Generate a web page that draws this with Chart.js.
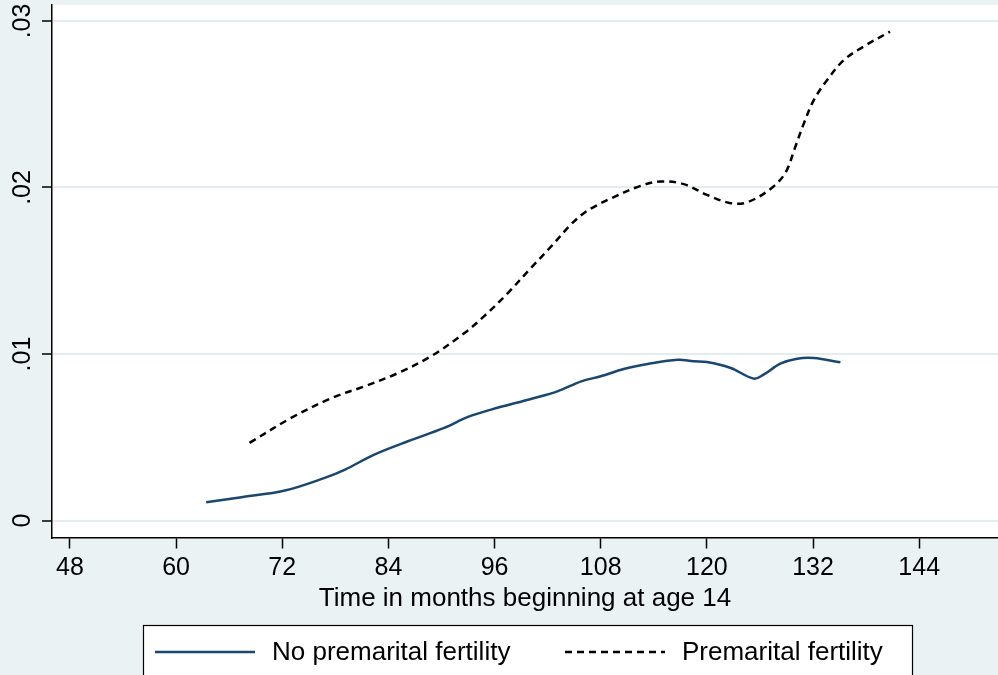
<!DOCTYPE html>
<html>
<head>
<meta charset="utf-8">
<title>Smoothed hazard by premarital fertility</title>
<script src="https://cdn.jsdelivr.net/npm/chart.js@4.4.1/dist/chart.umd.min.js"></script>
<style>
  html, body { margin: 0; padding: 0; background: #eaf2f3; }
  #wrap { width: 998px; height: 675px; position: relative; }
  canvas { display: block; }
</style>
</head>
<body>
<div id="wrap"><canvas id="chart" width="998" height="675"></canvas></div>
<script>
// Smoothed hazard estimates, by months since age 14
const noPremMonths = [63.4, 67.4, 72.3, 76.8, 79.1, 82.4, 86.2, 90.3, 93.0, 95.6, 100.3, 103.1, 105.8, 108.0, 110.6, 113.3, 116.7, 118.5, 120.0, 122.7, 125.3, 126.4, 128.3, 130.2, 132.1, 135.1];
const noPremHazard = [0.00110, 0.00140, 0.00180, 0.00256, 0.00306, 0.00396, 0.00476, 0.00556, 0.00622, 0.00666, 0.00733, 0.00776, 0.00836, 0.00866, 0.00910, 0.00940, 0.00966, 0.00956, 0.00952, 0.00916, 0.00852, 0.00876, 0.00942, 0.00972, 0.00976, 0.00950];

const premMonths = [68.3, 73.0, 77.6, 81.3, 85.1, 88.8, 92.6, 94.8, 97.5, 100.1, 102.4, 104.6, 106.2, 107.4, 108.8, 112.5, 114.8, 117.4, 120.0, 122.7, 124.6, 127.3, 128.9, 129.9, 130.9, 132.1, 133.6, 135.5, 137.7, 140.7];
const premHazard = [0.00466, 0.00616, 0.00736, 0.00806, 0.00886, 0.00986, 0.01126, 0.01226, 0.01366, 0.01516, 0.01646, 0.01776, 0.01850, 0.01888, 0.01926, 0.02010, 0.02036, 0.02020, 0.01956, 0.01906, 0.01912, 0.01996, 0.02090, 0.02230, 0.02376, 0.02526, 0.02646, 0.02766, 0.02846, 0.02936];

const xTickValues = [48, 60, 72, 84, 96, 108, 120, 132, 144];
const yTickValues = [0, 0.01, 0.02, 0.03];
const seriesNames = ['No premarital fertility', 'Premarital fertility'];
const xTitle = 'Time in months beginning at age 14';

const FONT = '"Liberation Sans", Arial, Helvetica, sans-serif';
const BG = '#eaf2f3';

function toPoints(xs, ys) {
  return xs.map((x, i) => ({ x: x, y: ys[i] }));
}

function yLabel(v) {
  if (v === 0) return '0';
  return v.toFixed(2).replace(/^0/, '');
}

// Paints the outer region and the white plot region
const backgroundPlugin = {
  id: 'regions',
  beforeDraw(chart) {
    const { ctx, chartArea: a } = chart;
    ctx.save();
    ctx.fillStyle = BG;
    ctx.fillRect(0, 0, chart.width, chart.height);
    ctx.fillStyle = '#ffffff';
    ctx.fillRect(a.left, a.top, a.right - a.left, a.bottom - a.top);
    ctx.restore();
  }
};

// Boxed legend below the axis title, built from the datasets
const boxedLegendPlugin = {
  id: 'boxedLegend',
  afterDraw(chart) {
    const { ctx } = chart;
    const box = { left: 143, top: 625, right: 912, bottom: 690 };
    const rowY = 652;
    const sampleStarts = [155, 565];
    const sampleLen = 100;
    const textGap = 17;
    ctx.save();
    ctx.fillStyle = '#ffffff';
    ctx.fillRect(box.left, box.top, box.right - box.left, box.bottom - box.top);
    ctx.strokeStyle = '#000000';
    ctx.lineWidth = 1.2;
    ctx.strokeRect(box.left + 0.5, box.top + 0.5, box.right - box.left, box.bottom - box.top);
    chart.data.datasets.forEach((ds, i) => {
      const x0 = sampleStarts[i];
      ctx.beginPath();
      ctx.setLineDash(ds.borderDash || []);
      ctx.strokeStyle = ds.borderColor;
      ctx.lineWidth = ds.borderWidth;
      ctx.moveTo(x0, rowY);
      ctx.lineTo(x0 + sampleLen, rowY);
      ctx.stroke();
      ctx.setLineDash([]);
      ctx.fillStyle = '#000000';
      ctx.font = '26px ' + FONT;
      ctx.textAlign = 'left';
      ctx.textBaseline = 'middle';
      ctx.fillText(ds.label, x0 + sampleLen + textGap, rowY + 1);
    });
    ctx.restore();
  }
};

new Chart(document.getElementById('chart'), {
  type: 'line',
  data: {
    datasets: [
      {
        label: seriesNames[0],
        data: toPoints(noPremMonths, noPremHazard),
        borderColor: '#1a476f',
        borderWidth: 2.5,
        pointRadius: 0,
        tension: 0.35,
        fill: false
      },
      {
        label: seriesNames[1],
        data: toPoints(premMonths, premHazard),
        borderColor: '#000000',
        borderWidth: 2.5,
        borderDash: [7, 5],
        pointRadius: 0,
        tension: 0.35,
        fill: false
      }
    ]
  },
  options: {
    responsive: false,
    animation: false,
    devicePixelRatio: 1,
    layout: { padding: { left: 8, right: 0, top: 5, bottom: 61.5 } },
    plugins: {
      legend: { display: false },
      tooltip: { enabled: false },
      title: { display: false }
    },
    scales: {
      x: {
        type: 'linear',
        min: 45.97,
        max: 152.91,
        afterBuildTicks(scale) { scale.ticks = xTickValues.map(v => ({ value: v })); },
        border: { display: true, color: '#000000', width: 1.5 },
        grid: { drawOnChartArea: false, drawTicks: true, tickLength: 11, tickColor: '#000000', tickWidth: 1.5 },
        ticks: {
          padding: 5,
          color: '#000000',
          font: { family: FONT, size: 25 },
          maxRotation: 0,
          minRotation: 0,
          callback: v => String(v)
        },
        title: {
          display: true,
          text: xTitle,
          color: '#000000',
          font: { family: FONT, size: 26, lineHeight: 1 },
          padding: { top: -3, bottom: 2 }
        }
      },
      y: {
        type: 'linear',
        min: -0.00102,
        max: 0.03096,
        afterBuildTicks(scale) { scale.ticks = yTickValues.map(v => ({ value: v })); },
        // rotated labels sit beside the axis, so no extra room is needed above or below it
        afterFit(scale) { scale.paddingTop = 0; scale.paddingBottom = 0; },
        border: { display: true, color: '#000000', width: 1.5 },
        grid: { color: '#e3ecee', lineWidth: 2, drawTicks: true, tickLength: 10, tickColor: '#000000', tickWidth: 1.5 },
        ticks: {
          padding: 2,
          color: '#000000',
          font: { family: FONT, size: 25 },
          minRotation: 90,
          maxRotation: 90,
          crossAlign: 'center',
          callback: v => yLabel(v)
        }
      }
    }
  },
  plugins: [backgroundPlugin, boxedLegendPlugin]
});
</script>
</body>
</html>
